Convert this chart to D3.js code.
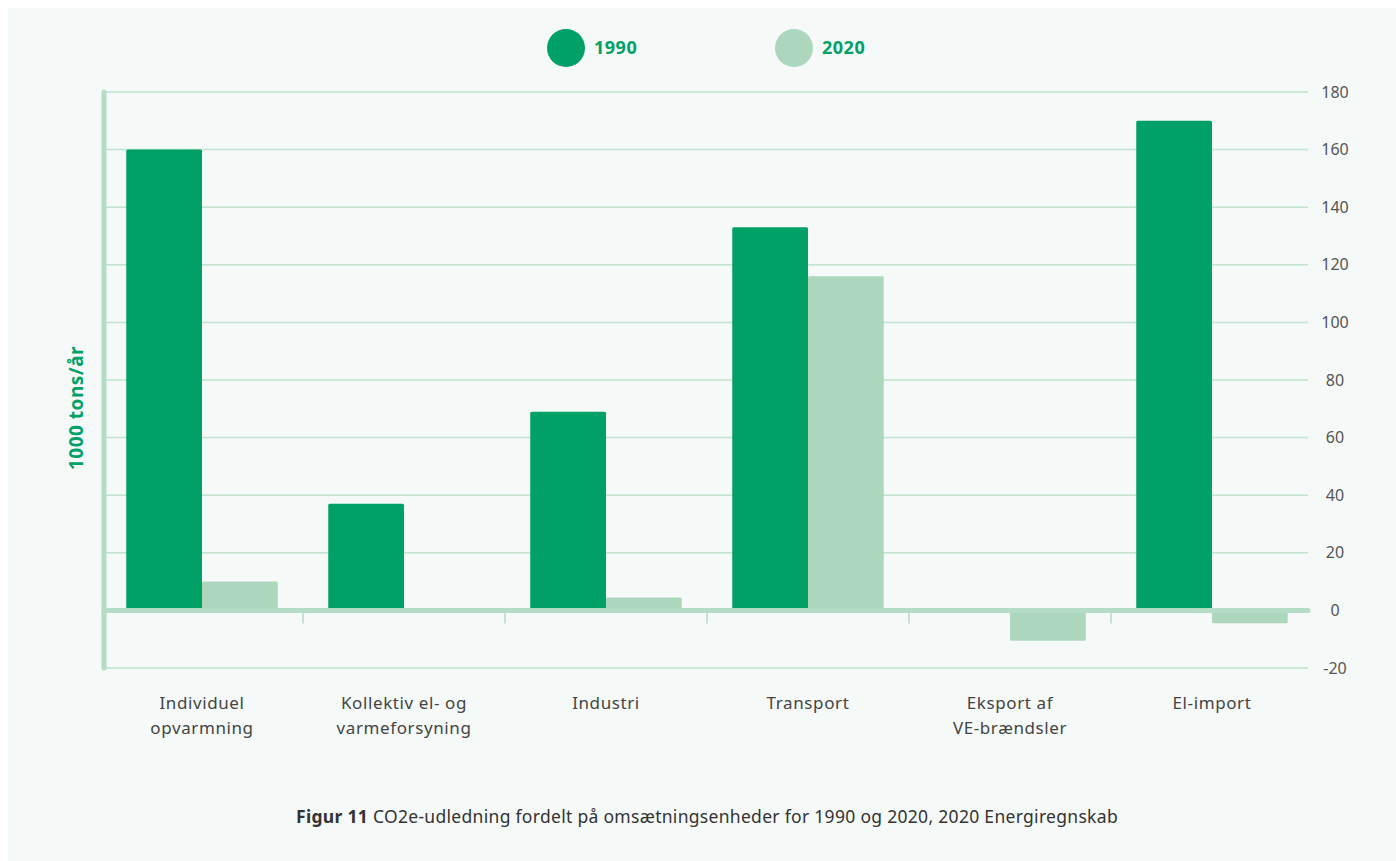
<!DOCTYPE html>
<html>
<head>
<meta charset="utf-8">
<script src="https://cdn.jsdelivr.net/npm/d3@7"></script>
<style>
  html, body { margin: 0; padding: 0; background: #ffffff; }
  svg { display: block; font-family: "Noto Sans", Lato, sans-serif; }
</style>
</head>
<body>
<svg id="chart" width="1396" height="861"></svg>
<script>
const categories = [
  ["Individuel", "opvarmning"],
  ["Kollektiv el- og", "varmeforsyning"],
  ["Industri"],
  ["Transport"],
  ["Eksport af", "VE-brændsler"],
  ["El-import"]
];
const series = ["1990", "2020"];
const values1990 = [160, 37, 69, 133, 0, 170];
const values2020 = [10, 0, 4.5, 116, -10.5, -4.5];
const yTicks = [-20, 0, 20, 40, 60, 80, 100, 120, 140, 160, 180];
const colors = ["#00a066", "#acd7bc"];
const yLabel = "1000 tons/år";
const captionBold = "Figur 11";
const captionText = " CO2e-udledning fordelt på omsætningsenheder for 1990 og 2020, 2020 Energiregnskab";

const svg = d3.select("#chart");
svg.append("rect").attr("x", 8).attr("y", 8).attr("width", 1388).attr("height", 853).attr("fill", "#f5f9f8");

const left = 104, right = 1308;
const y = d3.scaleLinear().domain([-20, 180]).range([668, 92]);
const x0 = d3.scaleBand().domain(d3.range(categories.length)).range([101, 1313]).paddingInner(0.25).paddingOuter(0.125);
const x1 = d3.scaleBand().domain(series).range([0, x0.bandwidth()]);

// gridlines
svg.append("g").selectAll("line").data(yTicks.filter(t => t !== 0)).join("line")
  .attr("x1", left).attr("x2", right)
  .attr("y1", d => y(d)).attr("y2", d => y(d))
  .attr("stroke", "#bfe2cd").attr("stroke-width", 1.5);

// right axis labels
svg.append("g").selectAll("text").data(yTicks).join("text")
  .attr("x", 1335).attr("y", d => y(d)).attr("dy", "0.35em")
  .attr("text-anchor", "middle").attr("font-size", 16).attr("fill", "#555")
  .text(d => d);

// bars
const data = categories.map((c, i) => ({ i, vals: [values1990[i], values2020[i]] }));
const groups = svg.append("g").selectAll("g").data(data).join("g")
  .attr("transform", d => `translate(${x0(d.i)},0)`);
groups.selectAll("rect").data(d => d.vals.map((v, k) => ({ v, k })).filter(e => e.v !== 0)).join("rect")
  .attr("x", e => x1(series[e.k]))
  .attr("width", x1.bandwidth())
  .attr("y", e => Math.min(y(e.v), y(0)))
  .attr("height", e => Math.abs(y(e.v) - y(0)))
  .attr("rx", 1.5)
  .attr("fill", e => colors[e.k]);

// zero line
svg.append("line").attr("x1", left).attr("x2", right).attr("y1", y(0)).attr("y2", y(0))
  .attr("stroke", "#b5dcc5").attr("stroke-width", 5).attr("stroke-linecap", "round");
// left axis line
svg.append("line").attr("x1", left).attr("x2", left).attr("y1", y(180)).attr("y2", y(-20))
  .attr("stroke", "#b5dcc5").attr("stroke-width", 5).attr("stroke-linecap", "round");

// separator ticks
svg.append("g").selectAll("line").data(d3.range(1, categories.length)).join("line")
  .attr("x1", i => x0(i) - x0.step() * x0.paddingInner() / 2)
  .attr("x2", i => x0(i) - x0.step() * x0.paddingInner() / 2)
  .attr("y1", y(0) + 2).attr("y2", y(0) + 13)
  .attr("stroke", "#b5dcc5").attr("stroke-width", 1.5);

// category labels
const lab = svg.append("g").selectAll("text").data(categories).join("text")
  .attr("text-anchor", "middle").attr("font-size", 17).attr("letter-spacing", 0.6).attr("fill", "#444")
  .attr("x", (d, i) => x0(i) + x0.bandwidth() / 2).attr("y", 709);
lab.selectAll("tspan").data(d => d).join("tspan")
  .attr("x", function() { return d3.select(this.parentNode).attr("x"); })
  .attr("dy", (d, j) => j === 0 ? 0 : 25)
  .text(d => d);

// y label
svg.append("text").attr("transform", "translate(83,408) rotate(-90)")
  .attr("text-anchor", "middle").attr("font-size", 19).attr("font-weight", "bold").attr("letter-spacing", 0.5)
  .attr("fill", "#00a066").text(yLabel);

// legend
const legendX = [566, 794];
series.forEach((s, k) => {
  svg.append("circle").attr("cx", legendX[k]).attr("cy", 48).attr("r", 19).attr("fill", colors[k]);
  svg.append("text").attr("x", legendX[k] + 28).attr("y", 48).attr("dy", "0.36em")
    .attr("font-size", 18).attr("font-weight", "bold").attr("letter-spacing", 0.5).attr("fill", "#00a066").text(s);
});

// caption
const cap = svg.append("text").attr("x", 707).attr("y", 823).attr("text-anchor", "middle")
  .attr("font-size", 17.5).attr("letter-spacing", 0.3).attr("fill", "#333");
cap.append("tspan").attr("font-weight", "bold").text(captionBold);
cap.append("tspan").text(captionText);
</script>
</body>
</html>
